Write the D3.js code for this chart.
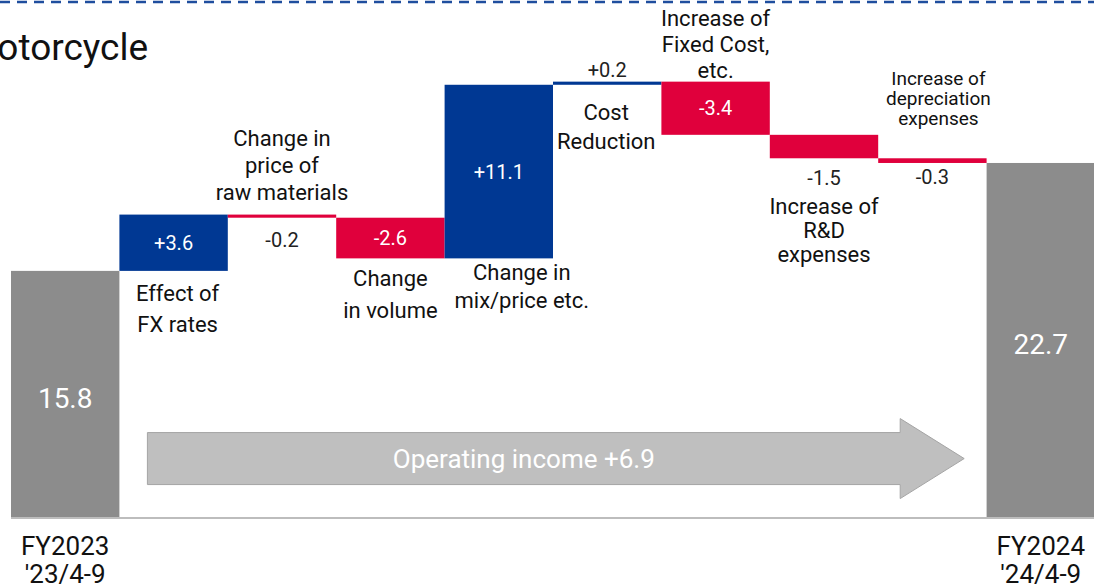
<!DOCTYPE html>
<html lang="en">
<head>
  <meta charset="UTF-8">
  <script src="https://d3js.org/d3.v7.min.js"></script>
  <title>Motorcycle operating income</title>
  <style>
    body { margin: 0; background: #fff; }
    svg text { font-family: "Roboto", sans-serif; }
  </style>
</head>
<body>
  <script>
    // data
    const categories = ["FY2023", "FX", "RawMat", "Volume", "MixPrice", "CostRed", "FixedCost", "RD", "Depr", "FY2024"]
    const values = [15.8, 3.6, -0.2, -2.6, 11.1, 0.2, -3.4, -1.5, -0.3, 22.7]
    const kinds = ["total", "step", "step", "step", "step", "step", "step", "step", "step", "total"]
    const valueLabels = ["15.8", "+3.6", "-0.2", "-2.6", "+11.1", "+0.2", "-3.4", "-1.5", "-0.3", "22.7"]
    const stepNames = [
      null,
      ["Effect of", "FX rates"],
      ["Change in", "price of", "raw materials"],
      ["Change", "in volume"],
      ["Change in", "mix/price etc."],
      ["Cost", "Reduction"],
      ["Increase of", "Fixed Cost,", "etc."],
      ["Increase of", "R&D", "expenses"],
      ["Increase of", "depreciation", "expenses"],
      null
    ]
    const periodLabels = [["FY2023", "'23/4-9"], ["FY2024", "'24/4-9"]]
    const arrowLabel = "Operating income +6.9"

    const width = 1094, height = 586
    const svg = d3.select("body").append("svg")
                  .attr("width", width)
                  .attr("height", height)

    const xScale = d3.scaleBand().domain(categories).range([11, 1095]).padding(0)
    const yScale = d3.scaleLinear().domain([0, 30]).range([518, 48.8])

    // running totals for waterfall
    let run = 0
    const bars = categories.map((c, i) => {
      let lo, hi
      if (kinds[i] == "total") { lo = 0; hi = values[i]; run = values[i] }
      else { const start = run; run = run + values[i]; lo = Math.min(start, run); hi = Math.max(start, run) }
      return { c, i, lo, hi, v: values[i], kind: kinds[i] }
    })

    const color = d => d.kind == "total" ? "#8c8c8c" : (d.v >= 0 ? "#003893" : "#e0003c")

    // top dashed line
    svg.append("line")
      .attr("x1", 0).attr("x2", width).attr("y1", 2).attr("y2", 2)
      .attr("stroke", "#1f4e9e").attr("stroke-width", 2.5).attr("stroke-dasharray", "10 7")

    // title (clipped on the left)
    svg.append("text")
      .attr("x", -35).attr("y", 60)
      .attr("font-size", 37).attr("fill", "#111")
      .text("Motorcycle")

    // bars
    svg.selectAll("rect.bar")
      .data(bars)
      .enter()
      .append("rect")
      .attr("class", "bar")
      .attr("x", d => xScale(d.c))
      .attr("width", xScale.bandwidth())
      .attr("y", d => yScale(d.hi))
      .attr("height", d => Math.max(yScale(d.lo) - yScale(d.hi), 2))
      .attr("fill", color)

    // baseline
    svg.append("line")
      .attr("x1", 11).attr("x2", width)
      .attr("y1", yScale(0)).attr("y2", yScale(0))
      .attr("stroke", "#bdbdbd").attr("stroke-width", 2)

    // arrow
    const ax0 = xScale("FX") + 28, ax1 = xScale("Depr") + 86, ahead = ax1 - 64
    const ay = yScale(3.8), bh = 26, hh = 40
    svg.append("path")
      .attr("d", `M${ax0},${ay - bh} L${ahead},${ay - bh} L${ahead},${ay - hh} L${ax1},${ay} L${ahead},${ay + hh} L${ahead},${ay + bh} L${ax0},${ay + bh} Z`)
      .attr("fill", "#bfbfbf").attr("stroke", "#a5a5a5").attr("stroke-width", 1)
    svg.append("text")
      .attr("x", (ax0 + ahead) / 2).attr("y", ay)
      .attr("text-anchor", "middle").attr("dominant-baseline", "central")
      .attr("font-size", 26).attr("fill", "#fff")
      .text(arrowLabel)

    function multiline(x, y, lines, lh, size, fill) {
      const t = svg.append("text")
        .attr("text-anchor", "middle").attr("dominant-baseline", "central")
        .attr("font-size", size).attr("fill", fill || "#111")
      lines.forEach((l, k) => t.append("tspan").attr("x", x).attr("y", y + k * lh).text(l))
    }

    const cx = c => xScale(c) + xScale.bandwidth() / 2

    // value labels
    const valuePos = {
      FX: ["in", 0], RawMat: ["below", 22], Volume: ["in", 0], MixPrice: ["in", 0],
      CostRed: ["above", -12], FixedCost: ["in", 0], RD: ["below", 20], Depr: ["below", 14]
    }
    bars.forEach(d => {
      if (d.kind == "total") {
        multiline(cx(d.c), yScale(d.hi / 2) + 4, [valueLabels[d.i]], 0, 28, "#fff")
        return
      }
      const p = valuePos[d.c]
      if (p[0] == "in") multiline(cx(d.c), (yScale(d.lo) + yScale(d.hi)) / 2, [valueLabels[d.i]], 0, 20, "#fff")
      else if (p[0] == "below") multiline(cx(d.c), yScale(d.lo) + p[1], [valueLabels[d.i]], 0, 20, "#222")
      else multiline(cx(d.c), yScale(d.hi) + p[1], [valueLabels[d.i]], 0, 20, "#222")
    })

    // step names: [anchor, offset, line height, dx, size]
    const namePos = {
      FX: ["below", 22, 31, 4, 22],
      RawMat: ["above", -23, 27, 0, 22],
      Volume: ["below", 20, 32, 0, 22],
      MixPrice: ["below", 14, 28, 23, 22],
      CostRed: ["below", 27, 29, -1, 22],
      FixedCost: ["above", -12, 26, 0, 22],
      RD: ["below", 48, 24, 0, 22],
      Depr: ["above", -40, 20, 6, 19]
    }
    bars.forEach(d => {
      const lines = stepNames[d.i]
      if (!lines) return
      const p = namePos[d.c]
      let y
      if (p[0] == "below") y = yScale(d.lo) + p[1]
      else y = yScale(d.hi) + p[1] - (lines.length - 1) * p[2]
      multiline(cx(d.c) + p[3], y, lines, p[2], p[4])
    })

    // period labels
    multiline(cx("FY2023"), 546, periodLabels[0], 28, 26)
    multiline(cx("FY2024"), 546, periodLabels[1], 28, 26)
  </script>
</body>
</html>
